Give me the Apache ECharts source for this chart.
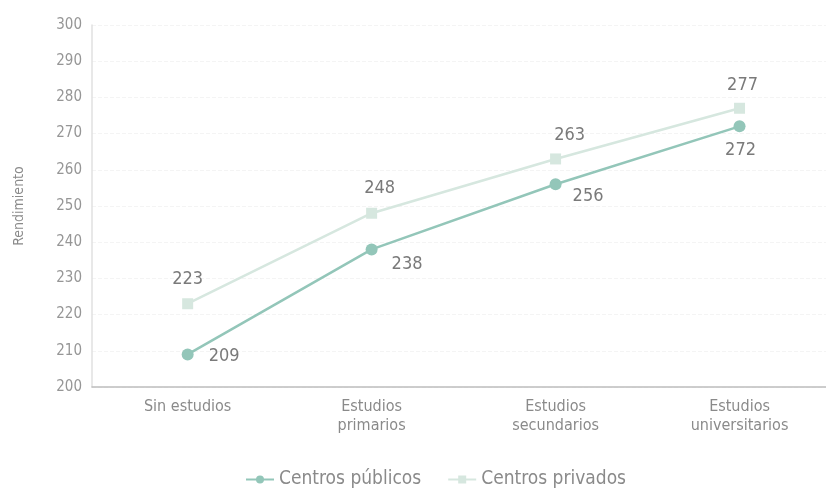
<!DOCTYPE html>
<html>
<head>
<meta charset="utf-8">
<script src="https://cdn.jsdelivr.net/npm/echarts@6/dist/echarts.min.js"></script>
<style>
  html, body { margin: 0; padding: 0; background: #fff; }
  #chart { width: 826px; height: 494px; }
</style>
</head>
<body>
<div id="chart"></div>
<script>
// Nivel de estudios de los padres (eje horizontal)
const categories = ['Sin estudios', 'Estudios\nprimarios', 'Estudios\nsecundarios', 'Estudios\nuniversitarios'];
// Rendimiento medio por tipo de centro
const publicos = [209, 238, 256, 272];
const privados = [223, 248, 263, 277];
const yTicks = [200, 210, 220, 230, 240, 250, 260, 270, 280, 290, 300];

const FONT = '"Liberation Sans Narrow", "DejaVu Sans Condensed", "Liberation Sans", sans-serif';
const colPub = '#93c6b9';
const colPriv = '#d6e7df';

// Posición de la etiqueta de cada punto
const pubLabelPos = [
  { position: 'right', offset: [10, 2] },
  { position: 'right', offset: [9, 15] },
  { position: 'right', offset: [6, 12] },
  { position: 'bottom', offset: [1, 4] }
];
const privLabelPos = [
  { position: 'top', offset: [0, -5] },
  { position: 'top', offset: [8, -5] },
  { position: 'top', offset: [14, -4] },
  { position: 'top', offset: [3, -3] }
];

function buildData(values, labels) {
  return values.map((v, i) => ({
    value: [i, v],
    label: Object.assign({ show: true }, labels[i])
  }));
}

const chart = echarts.init(document.getElementById('chart'));
chart.setOption({
  animation: false,
  backgroundColor: '#fff',
  grid: { left: 92, right: 0, top: 25, bottom: 107, containLabel: false },
  legend: {
    bottom: 0,
    left: 240,
    itemWidth: 28,
    itemHeight: 10,
    itemGap: 26,
    textStyle: { color: '#8a8a8a', fontSize: 19, fontFamily: FONT },
    data: ['Centros públicos', 'Centros privados']
  },
  xAxis: {
    type: 'value',
    min: -0.52,
    max: 3.47,
    splitLine: { show: false },
    axisLine: { show: true, onZero: false, lineStyle: { color: '#bdbdbd', width: 1.5 } },
    axisTick: { show: false },
    axisLabel: {
      customValues: [0, 1, 2, 3],
      formatter: v => categories[Math.round(v)] || '',
      color: '#8a8a8a',
      fontSize: 16,
      lineHeight: 19,
      fontFamily: FONT,
      margin: 10
    }
  },
  yAxis: {
    type: 'value',
    min: 200,
    max: 300,
    interval: 10,
    name: 'Rendimiento',
    nameLocation: 'middle',
    nameGap: 66,
    nameTextStyle: { color: '#8a8a8a', fontSize: 14, fontFamily: FONT },
    axisLine: { show: true, onZero: false, lineStyle: { color: '#e0e0e0', width: 1.5 } },
    axisTick: { show: false },
    axisLabel: {
      color: '#969696',
      fontSize: 15,
      fontFamily: FONT,
      margin: 10,
      formatter: v => (yTicks.includes(v) ? String(v) : '')
    },
    splitLine: { show: true, lineStyle: { color: '#f4f4f4', type: 'dashed', width: 1 } }
  },
  series: [
    {
      name: 'Centros privados',
      type: 'line',
      data: buildData(privados, privLabelPos),
      symbol: 'rect',
      symbolSize: 11,
      itemStyle: { color: colPriv },
      lineStyle: { color: colPriv, width: 2.5 },
      label: { color: '#7a7a7a', fontSize: 18, fontFamily: FONT, formatter: p => p.value[1] },
      z: 2
    },
    {
      name: 'Centros públicos',
      type: 'line',
      data: buildData(publicos, pubLabelPos),
      symbol: 'circle',
      symbolSize: 12,
      itemStyle: { color: colPub },
      lineStyle: { color: colPub, width: 2.5 },
      label: { color: '#7a7a7a', fontSize: 18, fontFamily: FONT, formatter: p => p.value[1] },
      z: 3
    }
  ]
});
</script>
</body>
</html>
